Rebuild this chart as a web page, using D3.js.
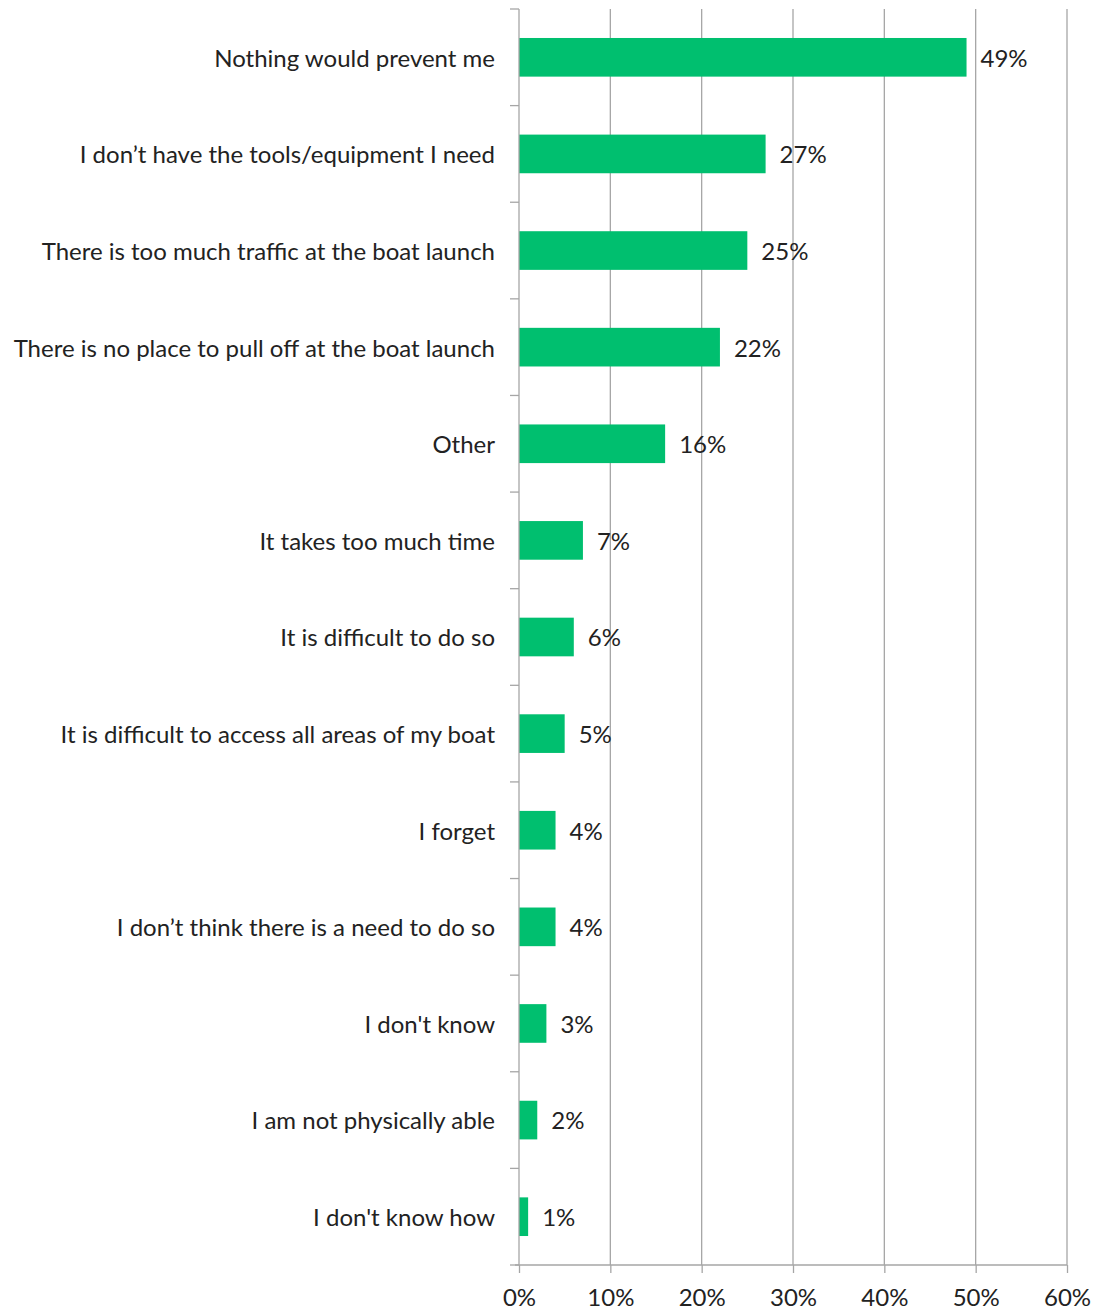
<!DOCTYPE html>
<html>
<head>
<meta charset="utf-8">
<script src="https://cdn.jsdelivr.net/npm/d3@7"></script>
<style>
  body { margin: 0; background: #fff; }
  svg text { font-family: Lato, "Open Sans", sans-serif; fill: #222; }
</style>
</head>
<body>
<svg id="chart" width="1096" height="1313"></svg>
<script>
// Reasons given, top to bottom
const categories = [
  "Nothing would prevent me",
  "I don\u2019t have the tools/equipment I need",
  "There is too much traffic at the boat launch",
  "There is no place to pull off at the boat launch",
  "Other",
  "It takes too much time",
  "It is difficult to do so",
  "It is difficult to access all areas of my boat",
  "I forget",
  "I don\u2019t think there is a need to do so",
  "I don't know",
  "I am not physically able",
  "I don't know how"
];
// Share of respondents (%)
const values = [49, 27, 25, 22, 16, 7, 6, 5, 4, 4, 3, 2, 1];
// Horizontal axis ticks (%)
const xTicks = [0, 10, 20, 30, 40, 50, 60];

const margin = { top: 9, right: 29, bottom: 48, left: 519 };
const width = 1096 - margin.left - margin.right;
const height = 1313 - margin.top - margin.bottom;
const fontSize = 24;

const svg = d3.select("#chart");
const g = svg.append("g").attr("transform", `translate(${margin.left},${margin.top})`);

const x = d3.scaleLinear().domain([0, 60]).range([0, width]);
const y = d3.scaleBand().domain(categories).range([0, height]).paddingInner(0.6).paddingOuter(0.3);

// Vertical gridlines
g.append("g").selectAll("line").data(xTicks.slice(1)).join("line")
  .attr("x1", d => x(d)).attr("x2", d => x(d))
  .attr("y1", 0).attr("y2", height)
  .attr("stroke", "#a6a6a6").attr("stroke-width", 1.3);

// Bars
const data = categories.map((c, i) => ({ c, v: values[i] }));
g.append("g").selectAll("rect").data(data).join("rect")
  .attr("x", 0)
  .attr("y", d => y(d.c))
  .attr("width", d => x(d.v))
  .attr("height", y.bandwidth())
  .attr("fill", "#00bf6f");

// Value labels
g.append("g").selectAll("text").data(data).join("text")
  .attr("x", d => x(d.v) + 14)
  .attr("y", d => y(d.c) + y.bandwidth() / 2 + 1)
  .attr("dy", "0.35em")
  .attr("font-size", fontSize)
  .text(d => d.v + "%");

// Category axis: line, ticks between bands, labels
const yAxis = g.append("g");
yAxis.append("line").attr("x1", 0).attr("x2", 0).attr("y1", 0).attr("y2", height)
  .attr("stroke", "#a6a6a6").attr("stroke-width", 1.3);
const bounds = d3.range(categories.length + 1).map(i => i * height / categories.length);
yAxis.selectAll("line.tick").data(bounds).join("line").attr("class", "tick")
  .attr("x1", -9).attr("x2", 0).attr("y1", d => d).attr("y2", d => d)
  .attr("stroke", "#a6a6a6").attr("stroke-width", 1.3);
yAxis.selectAll("text").data(categories).join("text")
  .attr("x", -24)
  .attr("y", d => y(d) + y.bandwidth() / 2 + 1)
  .attr("dy", "0.35em")
  .attr("text-anchor", "end")
  .attr("font-size", fontSize)
  .text(d => d);

// Value axis at the bottom
const xAxis = d3.axisBottom(x).tickValues(xTicks).tickFormat(d => d + "%").tickSize(8).tickPadding(16);
const xa = g.append("g").attr("transform", `translate(0,${height})`).call(xAxis);
xa.select(".domain").attr("stroke", "#a6a6a6").attr("stroke-width", 1.3).attr("d", `M-4,0H${width}`);
xa.selectAll(".tick line").attr("stroke", "#a6a6a6").attr("stroke-width", 1.3);
xa.selectAll(".tick text").attr("font-size", fontSize).attr("fill", "#222")
  .style("font-family", "Lato, 'Open Sans', sans-serif");
</script>
</body>
</html>
